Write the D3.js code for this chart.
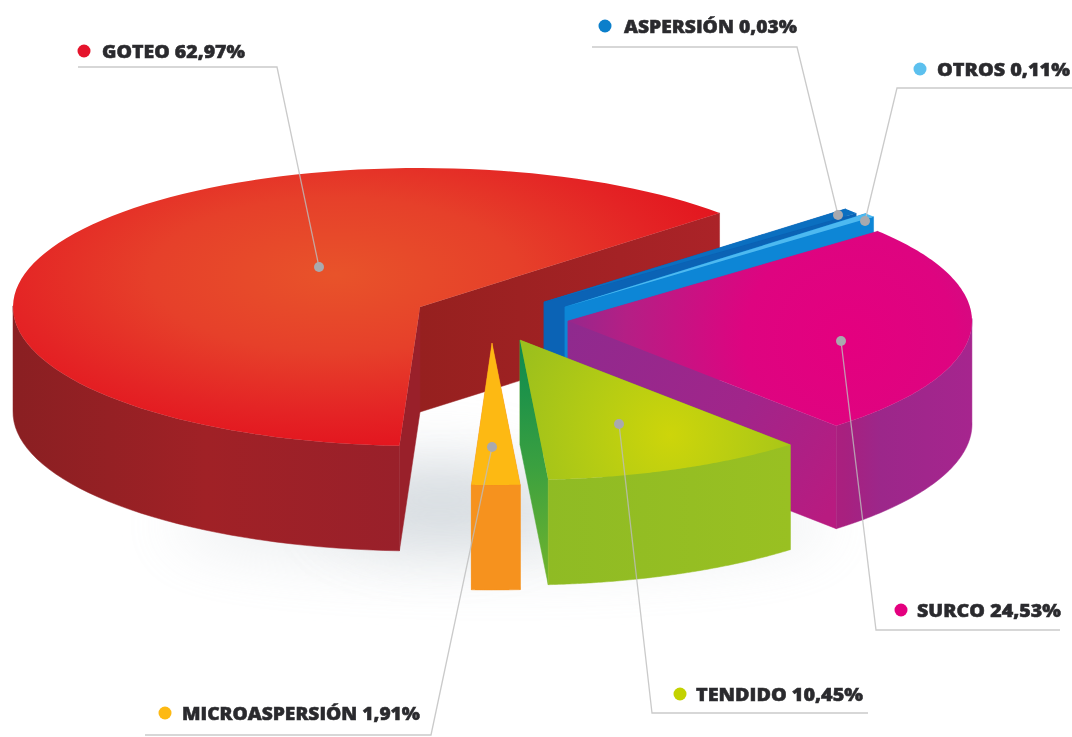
<!DOCTYPE html>
<html lang="es">
<head>
<meta charset="utf-8">
<script src="https://cdn.jsdelivr.net/npm/d3@7/dist/d3.min.js"></script>
<style>
html,body{margin:0;padding:0;background:#fff;overflow:hidden}
svg{display:block}
text{font-family:"Open Sans",Roboto,sans-serif;font-weight:800;fill:#2b2b2e}
</style>
</head>
<body>
<svg id="chart" width="1072" height="737"></svg>
<script>
const categories = ["GOTEO","ASPERSIÓN","OTROS","SURCO","TENDIDO","MICROASPERSIÓN"];
const shares = [62.97,0.03,0.11,24.53,10.45,1.91];
const labels = ["GOTEO 62,97%","ASPERSIÓN 0,03%","OTROS 0,11%","SURCO 24,53%","TENDIDO 10,45%","MICROASPERSIÓN 1,91%"];

const W = 1072, H = 737, DEG = Math.PI/180;
/* layout: exploded position of each slice, display adjustment of angles (deg), legend and leader geometry */
const layout = [
 {cx:420,cy:307,rx:407,ry:139,depth:105,s0:0,s1:-2.2,
  top:"gTopG",wall:"gWallG",cutA:"#99202a",cutB:"gCutG",
  swatch:"#e5142c",dot:[84,51],tx:102,ty:58,tw:143,leader:[[78,67],[277,67],[319,267]]},
 {cx:544,cy:302,rx:404,ry:140,depth:105,s0:-1.3,s1:0.9,
  top:"#0b6fc0",wall:"#0b63b5",cutA:"#0b63b5",cutB:"#0b63b5",
  swatch:"#0b7fcb",dot:[605,26],tx:624,ty:33,tw:173,leader:[[592,47],[797,47],[838,215]]},
 {cx:565,cy:307,rx:404,ry:140,depth:105,s0:-1.6,s1:-0.3,
  top:"#4db9f0",wall:"#0d86d6",cutA:"#0d86d6",cutB:"#0d86d6",
  swatch:"#5cc0ee",dot:[920,69],tx:937,ty:76,tw:133,leader:[[1072,88],[897,88],[865,221]]},
 {cx:568,cy:321,rx:404,ry:140,depth:103,s0:0,s1:0,
  top:"gTopS",wall:"gWallS",cutA:"gCutS",cutB:"gCutS",
  swatch:"#e4007f",dot:[901,610],tx:917,ty:617,tw:144,leader:[[1060,630],[876,630],[841,341]]},
 {cx:520,cy:340,rx:407,ry:140,depth:105,s0:0,s1:0,
  top:"gTopT",wall:"gWallT",cutA:"#90bc23",cutB:"gCutT",
  swatch:"#c3d200",dot:[680,694],tx:696,ty:701,tw:167,leader:[[868,713],[652,713],[619,424]]},
 {cx:492,cy:343,rx:407,ry:142,depth:105,s0:0,s1:0,
  top:"#fdb913",wall:"#f6921e",cutA:"#f6921e",cutB:"#f6921e",
  swatch:"#fdb913",dot:[165,713],tx:182,ty:720,tw:238,leader:[[145,735],[431,735],[492,447]]}
];

const svg = d3.select("#chart");
const defs = svg.append("defs");
function radial(id,cx,cy,r,stops,sy){
  const g = defs.append("radialGradient").attr("id",id).attr("gradientUnits","userSpaceOnUse")
    .attr("cx",cx).attr("cy",cy).attr("r",r);
  if(sy) g.attr("gradientTransform",`translate(0,${cy*(1-sy)}) scale(1,${sy})`);
  stops.forEach(s=>g.append("stop").attr("offset",s[0]).attr("stop-color",s[1]));
}
function linear(id,x1,y1,x2,y2,stops){
  const g = defs.append("linearGradient").attr("id",id).attr("gradientUnits","userSpaceOnUse")
    .attr("x1",x1).attr("y1",y1).attr("x2",x2).attr("y2",y2);
  stops.forEach(s=>g.append("stop").attr("offset",s[0]).attr("stop-color",s[1]));
}
radial("gTopG",335,275,410,[[0,"#e8532a"],[0.45,"#e6402a"],[0.8,"#e42425"],[1,"#e3161f"]],0.42);
linear("gWallG",13,0,400,0,[[0,"#8a1f22"],[0.5,"#a02126"],[1,"#99202a"]]);
linear("gCutG",420,0,720,0,[[0,"#96201f"],[1,"#ab2328"]]);
radial("gTopS",850,340,300,[[0,"#e4007f"],[0.35,"#de0480"],[0.75,"#b41f85"],[1,"#8e2a8e"]]);
linear("gWallS",790,0,972,0,[[0,"#b71c7f"],[0.3,"#a8207f"],[0.5,"#9c278a"],[1,"#a6258e"]]);
linear("gCutS",568,330,835,500,[[0,"#8f2a8e"],[0.6,"#a1258a"],[1,"#b81b80"]]);
radial("gTopT",670,435,170,[[0,"#cdd50a"],[0.5,"#b3cb14"],[1,"#9bbf1d"]]);
linear("gWallT",545,0,790,0,[[0,"#8fbb24"],[1,"#99c022"]]);
linear("gCutT",0,345,0,585,[[0,"#0c8a4f"],[0.5,"#3aa040"],[1,"#74b52b"]]);
defs.append("filter").attr("id","soft").attr("x","-50%").attr("y","-80%").attr("width","200%").attr("height","260%")
  .append("feGaussianBlur").attr("stdDeviation",30);
defs.append("filter").attr("id","ink").append("feGaussianBlur").attr("stdDeviation",0.45);

svg.append("rect").attr("width",W).attr("height",H).attr("fill","#fff");

/* soft floor shadow */
svg.append("ellipse").attr("cx",500).attr("cy",525).attr("rx",330).attr("ry",40)
  .attr("fill","#c9d0d6").attr("opacity",0.35).attr("filter","url(#soft)");
svg.append("ellipse").attr("cx",440).attr("cy",500).attr("rx",110).attr("ry",40)
  .attr("fill","#bcc5cc").attr("opacity",0.5).attr("filter","url(#soft)");

const angles = d3.pie().value(d=>d).sort(null)
  .startAngle(182.9*DEG).endAngle((182.9+360)*DEG)(shares);

const line = d3.line();
const paint = c => c.startsWith("#") ? c : `url(#${c})`;

function project(l){
  const x = d3.scaleLinear().domain([-1,1]).range([l.cx-l.rx,l.cx+l.rx]);
  const y = d3.scaleLinear().domain([-1,1]).range([l.cy+l.ry,l.cy-l.ry]);
  return a => [x(Math.sin(a)),y(Math.cos(a))];
}
const down = (p,d) => [p[0],p[1]+d];

/* paint far-to-near */
const gSlices = svg.append("g");
layout.forEach((l,i)=>{
  const d = angles[i], pt = project(l), g = gSlices.append("g");
  const a0 = d.startAngle + l.s0*DEG, a1 = d.endAngle + l.s1*DEG;
  const apex = [l.cx,l.cy];
  const rim = d3.range(0,101).map(k=>a0+(a1-a0)*k/100);
  const P0 = pt(a0), P1 = pt(a1);
  const walls = [[P0,l.cutA],[P1,l.cutB]];
  if(a1-a0>Math.PI) walls.reverse();
  walls.forEach(w=>{
    g.append("path").attr("d",line([apex,w[0],down(w[0],l.depth),down(apex,l.depth)])+"Z")
      .attr("fill",paint(w[1])).attr("stroke",paint(w[1])).attr("stroke-width",0.5);
  });
  // outer wall (front half only)
  const front = rim.filter(a=>Math.cos(a)<0.02);
  if(front.length>1){
    const up = front.map(pt), lo = up.map(p=>down(p,l.depth)).reverse();
    g.append("path").attr("d",line(up.concat(lo))+"Z").attr("fill",paint(l.wall)).attr("stroke",paint(l.wall)).attr("stroke-width",0.5);
  }
  // top
  g.append("path").attr("d",line([apex].concat(rim.map(pt)))+"Z").attr("fill",paint(l.top));
});

/* leaders */
const gLead = svg.append("g");
layout.forEach(l=>{
  gLead.append("path").attr("d",line(l.leader)).attr("fill","none").attr("stroke","#bdbdbd").attr("stroke-width",1.3).attr("opacity",0.8);
});
layout.forEach(l=>{
  const end = l.leader[l.leader.length-1];
  gLead.append("circle").attr("cx",end[0]).attr("cy",end[1]).attr("r",5).attr("fill","#a9a9ae");
});

/* legend */
const gLab = svg.append("g");
layout.forEach((l,i)=>{
  gLab.append("circle").attr("cx",l.dot[0]).attr("cy",l.dot[1]).attr("r",6.5).attr("fill",l.swatch);
  gLab.append("text").attr("x",l.tx).attr("y",l.ty).attr("font-size",18)
    .attr("textLength",l.tw).attr("lengthAdjust","spacingAndGlyphs")
    .attr("filter","url(#ink)").attr("stroke","#2b2b2e").attr("stroke-width",0.5)
    .text(labels[i]);
});
</script>
</body>
</html>
